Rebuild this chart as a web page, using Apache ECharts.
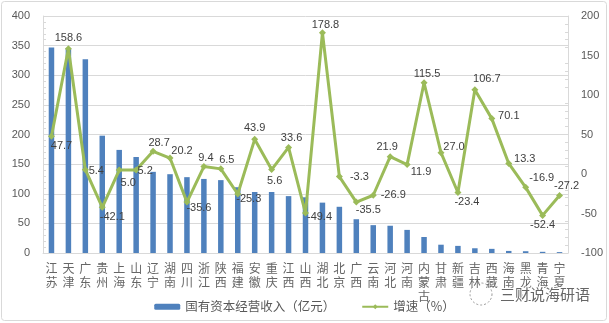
<!DOCTYPE html>
<html><head><meta charset="utf-8">
<script src="https://cdn.jsdelivr.net/npm/echarts@6/dist/echarts.min.js"></script>
<style>html,body{margin:0;padding:0;background:#fff}#c{width:609px;height:323px}</style>
</head><body><div id="c"></div>
<script>
const categories = ['江苏','天津','广东','贵州','上海','山东','辽宁','湖南','四川','浙江','陕西','福建','安徽','重庆','江西','山西','湖北','北京','广西','云南','河北','河南','内蒙古','甘肃','新疆','吉林','西藏','海南','黑龙江','青海','宁夏'];
const revenue = [347,345,327,198,174,162,137,133,128,125,123,111,103,103,96,94,85,78,57,47,46,39,27,14,12,8,7,3.5,3,2,1.5];
const growth = [47.7,158.6,5.4,-42.1,5.0,5.2,28.7,20.2,-35.6,9.4,6.5,-25.3,43.9,5.6,33.6,-49.4,178.8,-3.3,-35.5,-26.9,21.9,11.9,115.5,27.0,-23.4,106.7,70.1,13.3,-16.9,-52.4,-27.2];
const seriesNames = ['国有资本经营收入（亿元）','增速（%）'];
const leftTicks = {min:0, max:400, interval:50};
const rightTicks = {min:-100, max:200, interval:50};
// label offsets (dx, dy) around each growth point
const labelOffsets = [[10,10],[0,-11],[11,1],[10,10],[9,13],[9,1],[6,-8],[12,-7],[12,6],[2,-9],[6,-9],[11,5],[0,-11],[3,11],[3,-9],[14,4],[3,-8],[20,0],[12,8],[20,0],[-3,-10],[14,7],[3,-9],[13,-6],[9,9],[12,-11],[17,-3],[16,-5],[16,-9],[0,10],[7,-10]];

const FONT = '"Liberation Sans","Noto Sans CJK SC",sans-serif';
const chart = echarts.init(document.getElementById('c'), null, {renderer:'canvas'});
chart.setOption({
  animation:false,
  backgroundColor:'#fff',
  textStyle:{fontFamily:FONT},
  grid:{left:43, right:41, top:16, bottom:70, containLabel:false},
  legend:{
    data:seriesNames, bottom:5, left:'center', itemWidth:26, itemHeight:6, itemGap:26,
    textStyle:{color:'#595959', fontSize:12.5, fontFamily:'"Noto Sans CJK SC",sans-serif'}
  },
  xAxis:{
    type:'category', data:categories,
    axisLine:{lineStyle:{color:'#d9d9d9'}},
    axisTick:{show:false},
    axisLabel:{interval:0, margin:8, color:'#666', fontSize:12, lineHeight:14,
      fontFamily:'"Noto Sans CJK SC",sans-serif',
      formatter:v=>v.split('').join('\n')}
  },
  yAxis:[{
    type:'value', min:leftTicks.min, max:leftTicks.max, interval:leftTicks.interval,
    axisLine:{show:true, lineStyle:{color:'#d9d9d9'}},
    axisTick:{show:false, inside:true},
    minorTick:{show:true, splitNumber:5, length:3, lineStyle:{color:'#d9d9d9'}},
    splitLine:{lineStyle:{color:'#d9d9d9'}},
    axisLabel:{color:'#595959', fontSize:11, margin:13}
  },{
    type:'value', min:rightTicks.min, max:rightTicks.max, interval:rightTicks.interval,
    axisLine:{show:true, lineStyle:{color:'#d9d9d9'}},
    axisTick:{show:false, inside:true},
    minorTick:{show:true, splitNumber:5, length:3, lineStyle:{color:'#d9d9d9'}},
    splitLine:{show:false},
    axisLabel:{color:'#595959', fontSize:11, margin:13}
  }],
  series:[{
    name:seriesNames[0], type:'bar', data:revenue, barWidth:5.5, yAxisIndex:0,
    itemStyle:{color:'#4f81bd'}
  },{
    name:seriesNames[1], type:'line', data:growth.map((v,i)=>({value:v, label:{offset:labelOffsets[i]}})),
    yAxisIndex:1, z:5,
    symbol:'diamond', symbolSize:7,
    lineStyle:{color:'#9bbb59', width:3},
    itemStyle:{color:'#9bbb59'},
    label:{show:true, position:'inside', color:'#404040', fontSize:11,
      formatter:p=>p.value.toFixed(1)}
  }],
  graphic:[
    {type:'rect', shape:{x:1.5, y:1.5, width:605, height:319, r:3}, style:{fill:null, stroke:'#d9d9d9', lineWidth:1}, silent:true, z:-1},
    {type:'circle', shape:{cx:481, cy:294, r:11}, style:{fill:null, stroke:'#9a9a9a', lineWidth:1, lineDash:[2,2]}, z:100},
    {type:'text', left:499, top:286, style:{text:'三财说海研语', fontSize:15, fill:'#666', fontFamily:'"Noto Sans CJK SC",sans-serif', stroke:'#fff', lineWidth:2}, z:100}
  ]
});
</script></body></html>
